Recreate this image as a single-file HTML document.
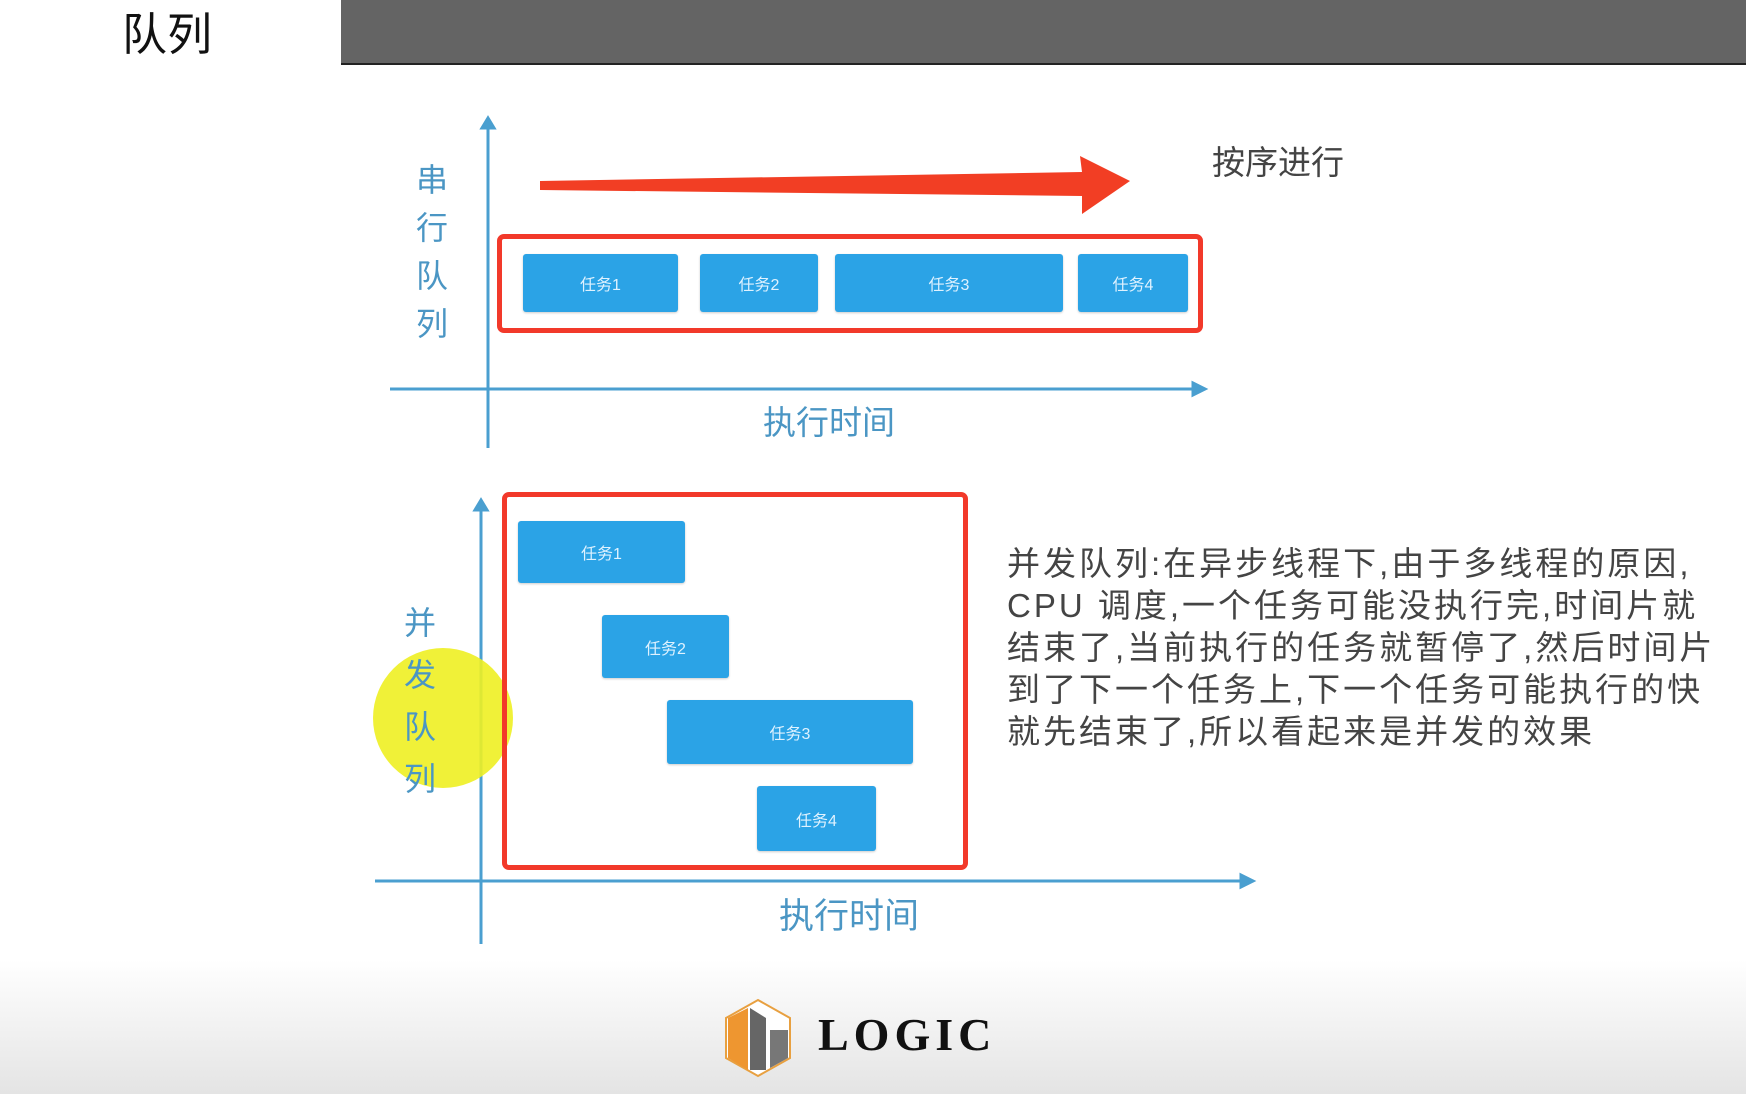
<!DOCTYPE html>
<html><head><meta charset="utf-8"><style>
body{margin:0;width:1746px;height:1094px;overflow:hidden;background:#fff;position:relative;font-family:"Liberation Sans","Noto Sans CJK SC",sans-serif}
.a{position:absolute}
.t{position:absolute;background:#2ba3e6;border-radius:3px;color:#dff2ff;font-size:16px;display:flex;align-items:center;justify-content:center;box-shadow:0 1px 2px rgba(0,0,0,.2)}
.rb{position:absolute;border:5px solid #f2392a;border-radius:7px;box-sizing:border-box}
.lab{position:absolute;color:#4b96c4;font-size:32px;line-height:48px;width:40px;text-align:center}
</style></head><body>
<div class="a" style="left:0;top:960px;width:1746px;height:134px;background:linear-gradient(#fff,#e4e4e4)"></div>
<div class="a" style="left:341px;top:0;width:1405px;height:63px;background:#646464;border-bottom:2px solid #222"></div>
<div class="a" style="left:122px;top:-2px;font-size:45px;color:#111">队列</div>
<svg class="a" style="left:0;top:0" width="1746" height="1094">
<g stroke="#4a9fd0" stroke-width="3" fill="#4a9fd0">
<line x1="488" y1="126" x2="488" y2="448"/><polygon points="482,128 494,128 488,118"/>
<line x1="390" y1="389" x2="1195" y2="389"/><polygon points="1193,383 1193,395 1205,389"/>
<line x1="481" y1="508" x2="481" y2="944"/><polygon points="475,510 487,510 481,500"/>
<line x1="375" y1="881" x2="1243" y2="881"/><polygon points="1241,875 1241,887 1253,881"/>
</g>
<polygon points="540,181 1082,172 1080,156 1130,181 1082,214 1082,196 540,190" fill="#f23e24"/>
<circle cx="443" cy="718" r="70" fill="#eeef22" opacity=".9"/>
<polygon points="758,1000 790,1018 790,1058 758,1076 726,1058 726,1018" fill="#fff" stroke="#e8a040" stroke-width="2"/>
<polygon points="728,1018 748,1008 748,1070 728,1058" fill="#ee9630"/>
<polygon points="750,1008 766,1018 766,1070 750,1070" fill="#666"/>
<polygon points="770,1030 788,1030 788,1058 770,1068" fill="#777"/>
</svg>
<div class="lab" style="left:412px;top:156px">串<br>行<br>队<br>列</div>
<div class="lab" style="left:400px;top:597px;line-height:52px">并<br>发<br>队<br>列</div>
<div class="a" style="left:1212px;top:136px;font-size:33px;color:#444">按序进行</div>
<div class="rb" style="left:497px;top:234px;width:706px;height:99px"></div>
<div class="t" style="left:523px;top:254px;width:155px;height:58px">任务1</div>
<div class="t" style="left:700px;top:254px;width:118px;height:58px">任务2</div>
<div class="t" style="left:835px;top:254px;width:228px;height:58px">任务3</div>
<div class="t" style="left:1078px;top:254px;width:110px;height:58px">任务4</div>
<div class="a" style="left:763px;top:396px;font-size:33px;color:#4b96c4">执行时间</div>
<div class="rb" style="left:502px;top:492px;width:466px;height:378px"></div>
<div class="t" style="left:518px;top:521px;width:167px;height:62px">任务1</div>
<div class="t" style="left:602px;top:615px;width:127px;height:63px">任务2</div>
<div class="t" style="left:667px;top:700px;width:246px;height:64px">任务3</div>
<div class="t" style="left:757px;top:786px;width:119px;height:65px">任务4</div>
<div class="a" style="left:779px;top:888px;font-size:35px;color:#4b96c4">执行时间</div>
<div class="a" style="left:1007px;top:543px;font-size:33px;line-height:42px;letter-spacing:3px;color:#444;white-space:nowrap">并发队列:在异步线程下,由于多线程的原因,<br>CPU 调度,一个任务可能没执行完,时间片就<br>结束了,当前执行的任务就暂停了,然后时间片<br>到了下一个任务上,下一个任务可能执行的快<br>就先结束了,所以看起来是并发的效果</div>
<div class="a" style="left:818px;top:1008px;font-size:46px;font-weight:bold;letter-spacing:5px;color:#111;font-family:'Liberation Serif',serif">LOGIC</div>
</body></html>
